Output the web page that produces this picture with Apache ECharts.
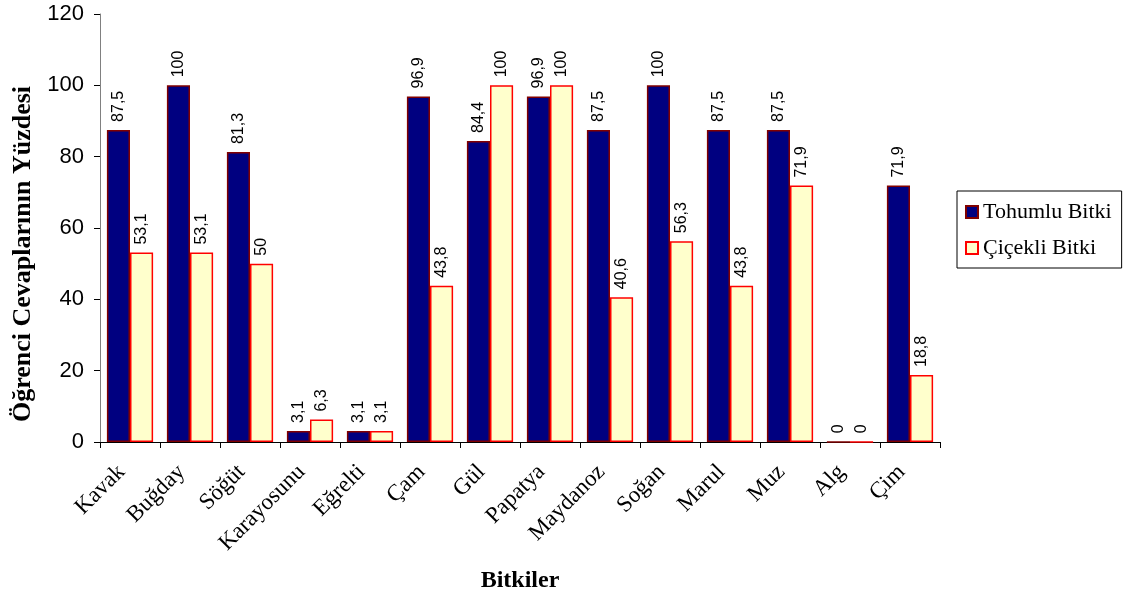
<!DOCTYPE html>
<html>
<head>
<meta charset="utf-8">
<script src="https://cdn.jsdelivr.net/npm/echarts@6/dist/echarts.min.js"></script>
<style>
  html, body { margin: 0; padding: 0; background: #fff; }
  #chart { width: 1125px; height: 597px; }
</style>
</head>
<body>
<div id="chart"></div>
<script>
// Plants surveyed
const categories = ['Kavak', 'Buğday', 'Söğüt', 'Karayosunu', 'Eğrelti', 'Çam', 'Gül', 'Papatya', 'Maydanoz', 'Soğan', 'Marul', 'Muz', 'Alg', 'Çim'];
// Percentage of student answers per group
const tohumluBitki = [87.5, 100, 81.3, 3.1, 3.1, 96.9, 84.4, 96.9, 87.5, 100, 87.5, 87.5, 0, 71.9];
const cicekliBitki = [53.1, 53.1, 50, 6.3, 3.1, 43.8, 100, 100, 40.6, 56.3, 43.8, 71.9, 0, 18.8];
const yTicks = [0, 20, 40, 60, 80, 100, 120];

const chart = echarts.init(document.getElementById('chart'));

const serif = 'Liberation Serif, Times New Roman, serif';
const sans = 'Liberation Sans, Arial, sans-serif';

const valueLabel = {
  show: true,
  position: 'top',
  rotate: 90,
  align: 'left',
  verticalAlign: 'middle',
  distance: 8,
  fontFamily: sans,
  fontSize: 16,
  color: '#000',
  formatter: p => String(p.value).replace('.', ',')
};

chart.setOption({
  animation: false,
  grid: { left: 100, right: 185, top: 14, bottom: 155, outerBoundsMode: 'none', containLabel: false },
  legend: {
    orient: 'vertical',
    left: 957,
    top: 191,
    width: 165,
    padding: [10, 10, 9, 8],
    itemGap: 14,
    itemWidth: 12,
    itemHeight: 12,
    icon: 'rect',
    borderColor: '#000',
    borderWidth: 1,
    textStyle: { fontFamily: serif, fontSize: 22, color: '#000' },
    data: ['Tohumlu Bitki', 'Çiçekli Bitki']
  },
  xAxis: {
    type: 'category',
    data: categories,
    name: 'Bitkiler',
    nameLocation: 'middle',
    nameGap: 127,
    nameTextStyle: { fontFamily: serif, fontSize: 24, fontWeight: 'bold', color: '#000' },
    axisLine: { lineStyle: { color: '#000', width: 1 } },
    axisTick: { show: true, length: 6, lineStyle: { color: '#000' } },
    axisLabel: {
      rotate: 45,
      interval: 0,
      margin: 18,
      padding: [0, 12, 0, 0],
      fontFamily: serif,
      fontSize: 23,
      color: '#000'
    }
  },
  yAxis: {
    type: 'value',
    min: 0,
    max: 120,
    interval: 20,
    name: 'Öğrenci Cevaplarının Yüzdesi',
    nameLocation: 'middle',
    nameGap: 64,
    nameTextStyle: { fontFamily: serif, fontSize: 26, fontWeight: 'bold', color: '#000', padding: [0, 52, 0, 0] },
    axisLine: { show: true, lineStyle: { color: '#808080', width: 1 } },
    axisTick: { show: true, length: 6, lineStyle: { color: '#000' } },
    splitLine: { show: false },
    axisLabel: {
      margin: 16,
      fontFamily: sans,
      fontSize: 22,
      color: '#000',
      formatter: v => yTicks.includes(v) ? String(v) : ''
    }
  },
  series: [
    {
      name: 'Tohumlu Bitki',
      type: 'bar',
      data: tohumluBitki,
      barGap: '0%',
      barCategoryGap: '23%',
      itemStyle: { color: '#000080', borderColor: '#800000', borderWidth: 1.5 },
      label: valueLabel
    },
    {
      name: 'Çiçekli Bitki',
      type: 'bar',
      data: cicekliBitki,
      itemStyle: { color: '#FFFFCC', borderColor: '#FF0000', borderWidth: 1.5 },
      label: valueLabel
    }
  ]
});
</script>
</body>
</html>
